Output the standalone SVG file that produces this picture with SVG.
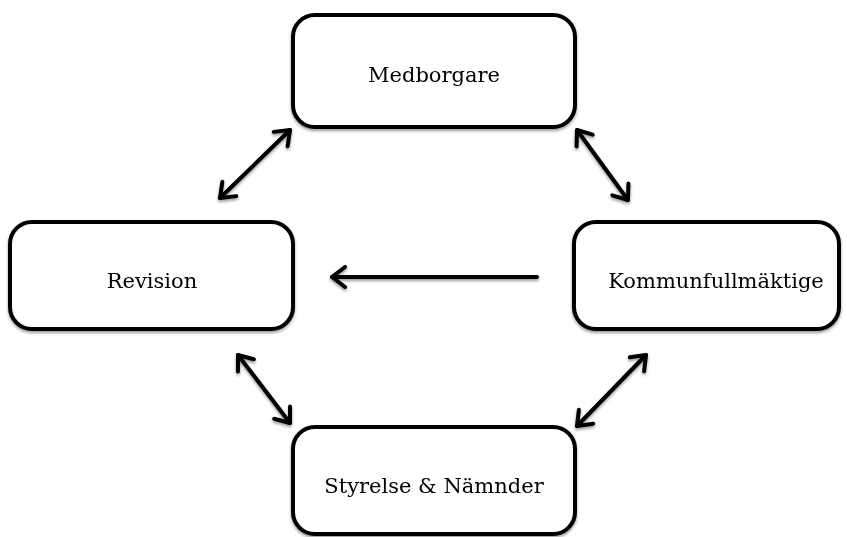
<svg xmlns="http://www.w3.org/2000/svg" width="847" height="537" viewBox="0 0 847 537">
<style>
.box{fill:#fff;stroke:#000;stroke-width:4}
.lbl{font-family:"DejaVu Serif","Liberation Serif",serif;font-size:21px;fill:#000;text-anchor:middle}
.con{stroke:#000;stroke-width:4;fill:none;stroke-linecap:round}
</style>
<defs>
<marker id="ah" viewBox="-16 -12 19 24" markerWidth="19" markerHeight="24" refX="0" refY="0" orient="auto-start-reverse" markerUnits="userSpaceOnUse">
<path d="M-13,-10 L0,0 L-13,10" fill="none" stroke="#000" stroke-width="4" stroke-linecap="round" stroke-linejoin="round"/>
</marker>
<filter id="sh" x="-10%" y="-10%" width="120%" height="130%">
<feGaussianBlur in="SourceAlpha" stdDeviation="1.5"/>
<feOffset dx="0" dy="2" result="b"/>
<feComponentTransfer><feFuncA type="linear" slope="0.4"/></feComponentTransfer>
<feMerge><feMergeNode/><feMergeNode in="SourceGraphic"/></feMerge>
</filter>
</defs>
<g id="connectors" filter="url(#sh)">
<line class="con" x1="220" y1="198" x2="290" y2="130" marker-start="url(#ah)" marker-end="url(#ah)"/>
<line class="con" x1="577" y1="130" x2="628" y2="200" marker-start="url(#ah)" marker-end="url(#ah)"/>
<line class="con" x1="537" y1="277" x2="332" y2="277" marker-end="url(#ah)"/>
<line class="con" x1="238" y1="355" x2="290" y2="423" marker-start="url(#ah)" marker-end="url(#ah)"/>
<line class="con" x1="646" y1="355" x2="577" y2="426" marker-start="url(#ah)" marker-end="url(#ah)"/>
</g>
<g id="medborgare" filter="url(#sh)">
<rect class="box" x="293" y="15" width="282" height="112" rx="22"/>
<text class="lbl" x="434" y="82">Medborgare</text>
</g>
<g id="revision" filter="url(#sh)">
<rect class="box" x="10" y="222" width="283" height="107" rx="22"/>
<text class="lbl" x="152" y="288">Revision</text>
</g>
<g id="kommunfullmaktige" filter="url(#sh)">
<rect class="box" x="574" y="222" width="265" height="107" rx="22"/>
<text class="lbl" x="716" y="288">Kommunfullmäktige</text>
</g>
<g id="styrelse" filter="url(#sh)">
<rect class="box" x="293" y="427" width="282" height="107" rx="22"/>
<text class="lbl" x="434" y="493">Styrelse &amp; Nämnder</text>
</g>
</svg>
